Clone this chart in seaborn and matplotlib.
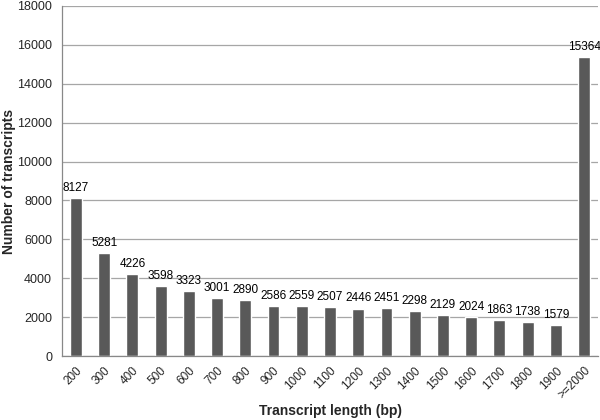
import numpy as np
import pandas as pd
import seaborn as sns
import matplotlib.pyplot as plt

# Data
lengths = ['200', '300', '400', '500', '600', '700', '800', '900', '1000', '1100',
           '1200', '1300', '1400', '1500', '1600', '1700', '1800', '1900', '>=2000']
counts = [8127, 5281, 4226, 3598, 3323, 3001, 2890, 2586, 2559, 2507,
          2446, 2451, 2298, 2129, 2024, 1863, 1738, 1579, 15364]
y_ticks = list(range(0, 18001, 2000))

df = pd.DataFrame({'length': lengths, 'count': counts})

sns.set_style('white')
plt.rcParams['font.family'] = ['Liberation Sans', 'DejaVu Sans']

fig = plt.figure(figsize=(6, 4.2), dpi=100)
ax = fig.add_axes([0.103, 0.152, 0.894, 0.834])

ax.set_axisbelow(True)
ax.yaxis.grid(True, color='#a6a6a6', linewidth=0.9)

sns.barplot(data=df, x='length', y='count', color='#595959', saturation=1,
            width=0.42, ax=ax)

ax.bar_label(ax.containers[0], labels=[str(c) for c in counts], padding=3,
             fontsize=8.5, color='black')

ax.set_ylim(0, 18000)
ax.set_xlim(-0.5, len(lengths) - 0.5)
ax.set_yticks(y_ticks)
ax.set_yticklabels([str(t) for t in y_ticks], fontsize=9)
ax.set_xticks(range(len(lengths)))
ax.set_xticklabels(lengths, fontsize=8.5, rotation=45, ha='right',
                   rotation_mode='anchor')
ax.tick_params(axis='x', which='major', length=0, pad=6)
ax.set_xticks(np.arange(-0.5, len(lengths), 1), minor=True)
ax.tick_params(axis='x', which='minor', length=4, color='#888888', width=0.8)
ax.tick_params(axis='y', length=4, color='#888888', width=0.8, pad=3)

for s in ['top', 'right']:
    ax.spines[s].set_visible(False)
for s in ['left', 'bottom']:
    ax.spines[s].set_color('#888888')
    ax.spines[s].set_linewidth(0.9)

ax.set_xlabel('Transcript length (bp)', fontsize=10, fontweight='bold', labelpad=2)
ax.set_ylabel('Number of transcripts', fontsize=10, fontweight='bold', labelpad=1)

fig.savefig('out.png', dpi=100)
